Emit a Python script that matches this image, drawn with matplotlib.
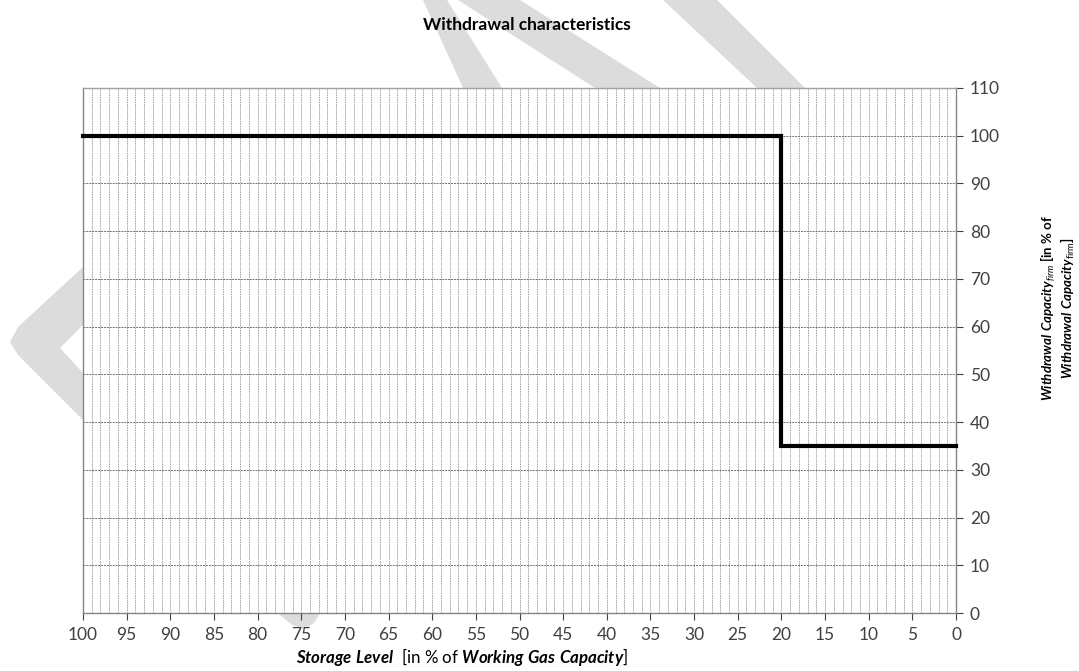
import matplotlib
matplotlib.use("Agg")
import matplotlib.pyplot as plt
from matplotlib.patches import Polygon
import numpy as np

plt.rcParams['font.family'] = ['Lato', 'DejaVu Sans']
plt.rcParams['mathtext.fontset'] = 'custom'
plt.rcParams['mathtext.rm'] = 'Lato'
plt.rcParams['mathtext.it'] = 'Lato:italic'
plt.rcParams['mathtext.bf'] = 'Lato:bold'
plt.rcParams['mathtext.bfit'] = 'Lato:bold:italic'

# step curve: storage level (%) vs withdrawal capacity (%)
storage_level = [100, 20, 20, 0]
withdrawal_capacity = [100, 100, 35, 35]
x_ticks = list(range(100, -1, -5))
y_ticks = list(range(0, 111, 10))

W, H = 1079, 671
fig = plt.figure(figsize=(W / 100, H / 100), dpi=100)

# light grey watermark behind the chart (pixel outlines, y from top)
wm_shapes = [
    [(423, 0), (447, 0), (502, 88), (463, 88)],
    [(458, 0), (520, 0), (660, 88), (595, 88)],
    [(663, 0), (717, 0), (805, 88), (757, 88)],
    [(83, 267), (18, 327), (10, 342), (18, 355), (83, 420), (83, 373), (60, 348), (83, 325)],
    [(278, 613), (292, 625), (305, 629), (314, 623), (320, 613)],
]
for shp in wm_shapes:
    pts = [(px / W, 1 - py / H) for px, py in shp]
    fig.add_artist(Polygon(pts, closed=True, facecolor='#dcdcdc', edgecolor='none',
                           transform=fig.transFigure, zorder=-5))

ax = fig.add_axes([83 / W, (H - 613) / H, (956 - 83) / W, (613 - 88) / H])
ax.set_facecolor('white')

ax.plot(storage_level, withdrawal_capacity, color='black', lw=3.0,
        solid_joinstyle='miter', zorder=5, clip_on=False)

ax.set_xlim(100, 0)
ax.set_ylim(0, 110)
ax.set_xticks(x_ticks)
ax.set_xticks(np.arange(0, 101, 1), minor=True)
ax.set_yticks(y_ticks)

ax.yaxis.tick_right()
ax.tick_params(axis='both', which='major', direction='out', length=5, width=0.8,
               color='#404040', labelcolor='#404040', labelsize=12.5, pad=5)
ax.tick_params(axis='x', which='minor', length=0)
ax.tick_params(axis='y', which='both', left=False, right=True)

ax.grid(which='minor', axis='x', color='#a0a0a0', lw=0.7, ls=(0, (1.5, 1)))
ax.grid(which='major', axis='x', color='#a0a0a0', lw=0.7, ls=(0, (1.5, 1)))
ax.grid(which='major', axis='y', color='#707070', lw=0.7, ls=(0, (2, 1)))
ax.set_axisbelow(True)

for s in ax.spines.values():
    s.set_color('#868686')
    s.set_linewidth(1.0)
ax.spines['top'].set_color('#a0a0a0')

fig.text(527 / W, 1 - 25 / H, 'Withdrawal characteristics', ha='center', va='center',
         fontsize=12.5, fontweight='bold')

fig.text(462 / W, 1 - 657 / H,
         r'$\mathbfit{Storage\ Level}$  [in % of $\mathbfit{Working\ Gas\ Capacity}$]',
         ha='center', va='center', fontsize=12.2)

fig.text(1058 / W, 1 - 308 / H,
         r'$\mathbfit{Withdrawal\ Capacity}_{\mathit{firm}}$ [in % of' + '\n' +
         r'$\mathbfit{Withdrawal\ Capacity}_{\mathrm{firm}}$]',
         ha='center', va='center', rotation=90, fontsize=9.5, fontweight='bold',
         multialignment='center', linespacing=1.05)

fig.savefig('out.png', dpi=100)
